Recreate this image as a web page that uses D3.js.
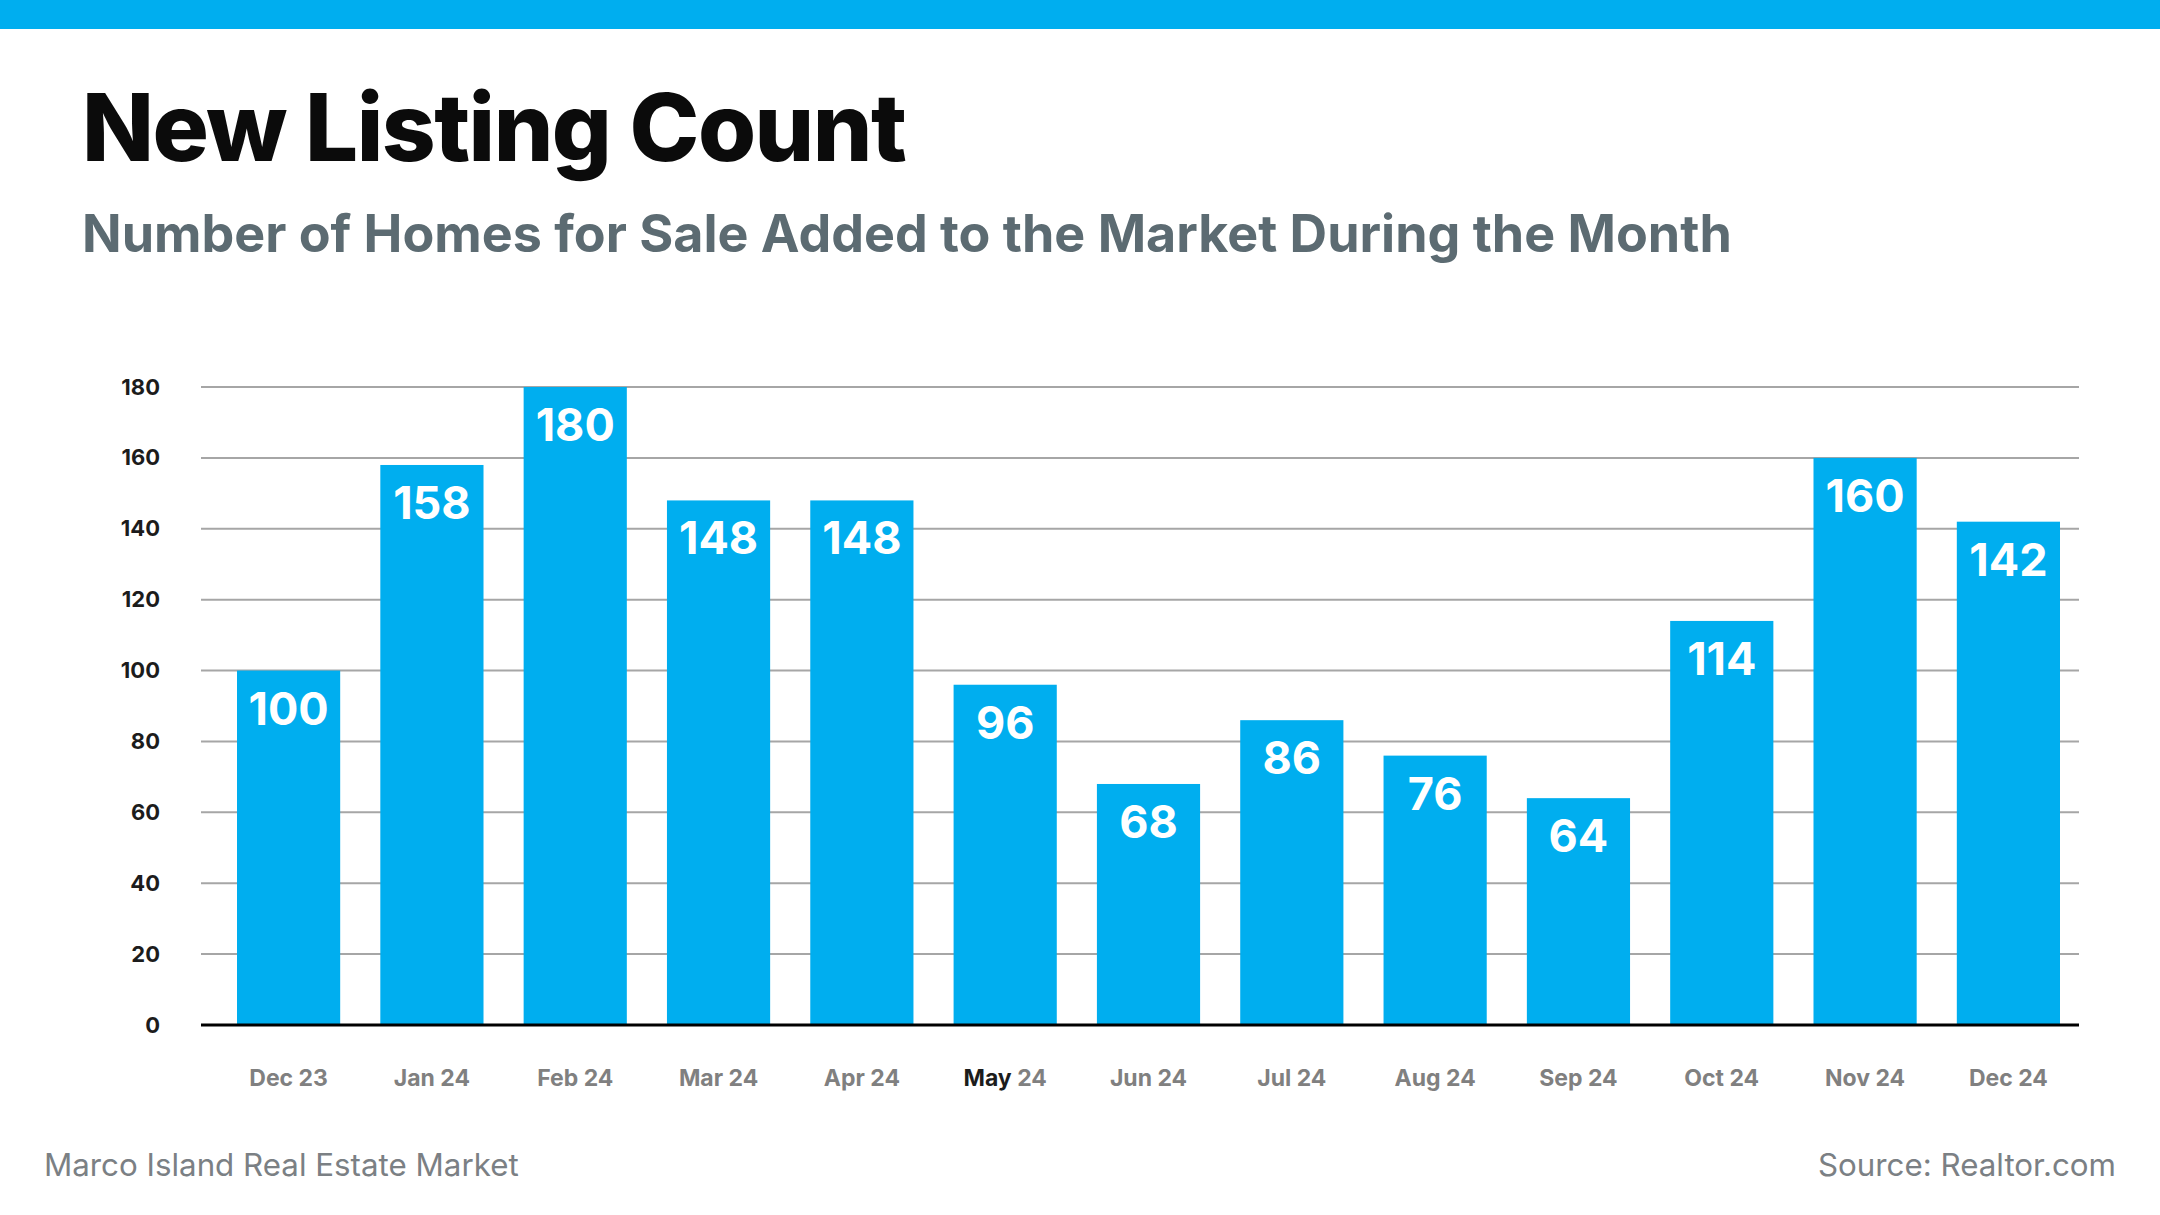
<!DOCTYPE html>
<html>
<head>
<meta charset="utf-8">
<script src="https://cdn.jsdelivr.net/npm/d3@7"></script>
<style>
  html, body { margin: 0; padding: 0; background: #fff; }
  svg text { font-family: Inter, "Open Sans", sans-serif; }
</style>
</head>
<body>
<div id="chart-container"></div>
<script>
const months = ["Dec 23", "Jan 24", "Feb 24", "Mar 24", "Apr 24", "May 24", "Jun 24",
  "Jul 24", "Aug 24", "Sep 24", "Oct 24", "Nov 24", "Dec 24"];
const listings = [100, 158, 180, 148, 148, 96, 68, 86, 76, 64, 114, 160, 142];
const yTicks = [0, 20, 40, 60, 80, 100, 120, 140, 160, 180];

const titleText = "New Listing Count";
const subtitleText = "Number of Homes for Sale Added to the Market During the Month";
const footerLeft = "Marco Island Real Estate Market";
const footerRight = "Source: Realtor.com";

class ListingChart {
  constructor(_config) {
    this.config = {
      parentElement: _config.parentElement,
      width: 2160,
      height: 1215,
      plot: { top: 387, bottom: 1025, left: 201, right: 2079 },
      barLeft: 237,
      barRight: 2060
    };
    this.initVis();
  }

  initVis() {
    const vis = this;
    const c = vis.config;

    vis.svg = d3.select(c.parentElement)
      .append("svg")
      .attr("width", c.width)
      .attr("height", c.height);

    // top accent strip
    vis.svg.append("rect")
      .attr("x", 0).attr("y", 0)
      .attr("width", c.width).attr("height", 29)
      .attr("fill", "#00aeef");

    vis.svg.append("text")
      .attr("x", 82).attr("y", 161)
      .attr("font-size", 94)
      .attr("font-weight", 800)
      .attr("letter-spacing", -1.5)
      .attr("fill", "#0b0b0b")
      .text(titleText);

    vis.svg.append("text")
      .attr("x", 82).attr("y", 252)
      .attr("font-size", 52)
      .attr("font-weight", 700)
      .attr("fill", "#5c6b72")
      .text(subtitleText);

    vis.xScale = d3.scaleBand()
      .domain(months)
      .range([c.barLeft, c.barRight])
      .paddingInner(0.28)
      .paddingOuter(0);

    vis.yScale = d3.scaleLinear()
      .domain([0, 180])
      .range([c.plot.bottom, c.plot.top]);

    vis.updateVis();
  }

  updateVis() {
    const vis = this;
    const c = vis.config;

    // gridlines (no axis domain line)
    vis.svg.selectAll(".grid-line")
      .data(yTicks.filter((d) => d > 0))
      .join("line")
      .attr("class", "grid-line")
      .attr("x1", c.plot.left)
      .attr("x2", c.plot.right)
      .attr("y1", (d) => vis.yScale(d))
      .attr("y2", (d) => vis.yScale(d))
      .attr("stroke", "#a6a6a6")
      .attr("stroke-width", 2);

    const yAxis = vis.svg.append("g")
      .attr("class", "y-axis")
      .attr("transform", "translate(160,0)")
      .call(d3.axisLeft(vis.yScale).tickValues(yTicks).tickSize(0).tickPadding(0));
    yAxis.select(".domain").remove();
    yAxis.selectAll("text")
      .attr("font-family", "Inter, sans-serif")
      .attr("font-size", 22)
      .attr("font-weight", 700)
      .attr("fill", "#1c1c1c");

    vis.svg.selectAll(".bar")
      .data(listings)
      .join("rect")
      .attr("class", "bar")
      .attr("x", (d, i) => vis.xScale(months[i]))
      .attr("y", (d) => vis.yScale(d))
      .attr("width", vis.xScale.bandwidth())
      .attr("height", (d) => vis.yScale(0) - vis.yScale(d))
      .attr("fill", "#00aeef");

    vis.svg.selectAll(".bar-value")
      .data(listings)
      .join("text")
      .attr("class", "bar-value")
      .attr("x", (d, i) => vis.xScale(months[i]) + vis.xScale.bandwidth() / 2)
      .attr("y", (d) => vis.yScale(d) + 54)
      .attr("text-anchor", "middle")
      .attr("font-size", 45)
      .attr("font-weight", 700)
      .attr("fill", "#ffffff")
      .text((d) => d);

    // baseline
    vis.svg.append("line")
      .attr("x1", c.plot.left)
      .attr("x2", c.plot.right)
      .attr("y1", vis.yScale(0))
      .attr("y2", vis.yScale(0))
      .attr("stroke", "#000")
      .attr("stroke-width", 3);

    const xLabels = vis.svg.selectAll(".x-label")
      .data(months)
      .join("text")
      .attr("class", "x-label")
      .attr("x", (d) => vis.xScale(d) + vis.xScale.bandwidth() / 2)
      .attr("y", 1086)
      .attr("text-anchor", "middle")
      .attr("font-size", 23)
      .attr("font-weight", 700)
      .attr("fill", "#808080");

    // month word and year as separate spans (May is darker in the source)
    xLabels.append("tspan")
      .attr("fill", (d) => d.startsWith("May") ? "#1c1c1c" : "#808080")
      .text((d) => d.split(" ")[0] + " ");
    xLabels.append("tspan")
      .text((d) => d.split(" ")[1]);

    vis.svg.append("text")
      .attr("x", 44).attr("y", 1176)
      .attr("font-size", 31.3)
      .attr("font-weight", 400)
      .attr("fill", "#7b8084")
      .text(footerLeft);

    vis.svg.append("text")
      .attr("x", 2116).attr("y", 1176)
      .attr("text-anchor", "end")
      .attr("font-size", 31.3)
      .attr("font-weight", 400)
      .attr("fill", "#7b8084")
      .text(footerRight);
  }
}

new ListingChart({ parentElement: "#chart-container" });
</script>
</body>
</html>
